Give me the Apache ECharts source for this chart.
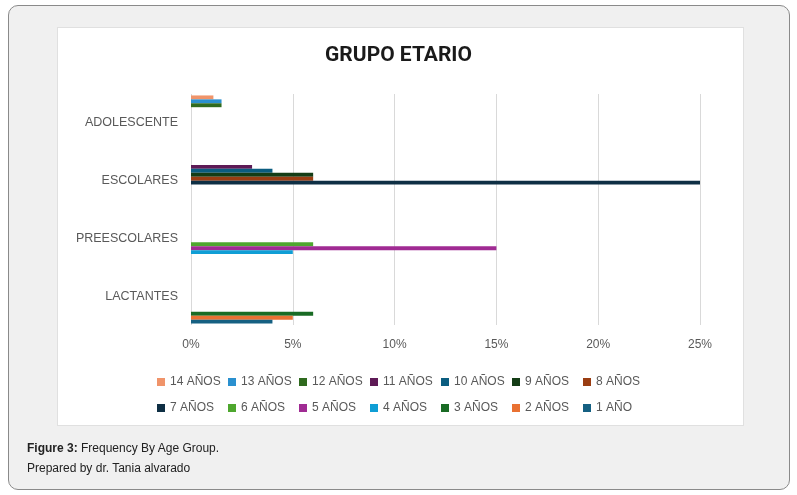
<!DOCTYPE html>
<html>
<head>
<meta charset="utf-8">
<script src="https://cdn.jsdelivr.net/npm/echarts@6/dist/echarts.min.js"></script>
<style>
  html, body { margin: 0; padding: 0; background: #fff; }
  #frame {
    position: absolute; left: 8px; top: 5px; width: 780px; height: 483px;
    background: #f0f0f0; border: 1px solid #8a8a8a; border-radius: 10px;
  }
  #panel {
    position: absolute; left: 57px; top: 27px; width: 685px; height: 397px;
    background: #fff; border: 1px solid #e0e0e0;
  }
  #main { position: absolute; left: 0; top: 0; width: 797px; height: 495px; }
  .cap {
    position: absolute; left: 27px; font-family: "Liberation Sans", Arial, sans-serif;
    font-size: 12px; color: #222;
  }
</style>
</head>
<body>
<div id="frame"></div>
<div id="panel"></div>
<div id="main"></div>
<div class="cap" style="top:441px"><b>Figure 3:</b> Frequency By Age Group.</div>
<div class="cap" style="top:461px">Prepared by dr. Tania alvarado</div>
<script>
// grupos (de abajo hacia arriba, como en Excel)
var grupos = ['LACTANTES', 'PREESCOLARES', 'ESCOLARES', 'ADOLESCENTE'];

var edades = ['1 AÑO', '2 AÑOS', '3 AÑOS', '4 AÑOS', '5 AÑOS', '6 AÑOS', '7 AÑOS',
	'8 AÑOS', '9 AÑOS', '10 AÑOS', '11 AÑOS', '12 AÑOS', '13 AÑOS', '14 AÑOS'];

var colores = ['#156082', '#e97132', '#196b24', '#0f9ed5', '#a02b93', '#4ea72e', '#0e2f44',
	'#9a3d12', '#143d16', '#0b5d80', '#5e1a56', '#2f6a1e', '#2a90cf', '#f0946a'];

// porcentaje por edad, en el orden de grupos
var valores = [
	[4, 0, 0, 0],
	[5, 0, 0, 0],
	[6, 0, 0, 0],
	[0, 5, 0, 0],
	[0, 15, 0, 0],
	[0, 6, 0, 0],
	[0, 0, 25, 0],
	[0, 0, 6, 0],
	[0, 0, 6, 0],
	[0, 0, 4, 0],
	[0, 0, 3, 0],
	[0, 0, 0, 1.5],
	[0, 0, 0, 1.5],
	[0, 0, 0, 1.1]
];

var fila1 = ['14 AÑOS', '13 AÑOS', '12 AÑOS', '11 AÑOS', '10 AÑOS', '9 AÑOS', '8 AÑOS'];
var fila2 = ['7 AÑOS', '6 AÑOS', '5 AÑOS', '4 AÑOS', '3 AÑOS', '2 AÑOS', '1 AÑO'];

var myChart = echarts.init(document.getElementById('main'));

// ECharts pone la primera serie arriba: se agregan de 14 a 1
var series = [];
for (var i = edades.length - 1; i >= 0; i--) {
	series.push({
		name: edades[i],
		type: 'bar',
		data: valores[i],
		barGap: '0%',
		barCategoryGap: '5%',
		itemStyle: { color: colores[i] }
	});
}

// una leyenda por item para que queden en columnas fijas
var legends = [];
[fila1, fila2].forEach(function(fila, r){
	fila.forEach(function(nombre, c){
		legends.push({
			data: [nombre],
			left: 152 + c * 71,
			top: 371 + r * 26,
			itemWidth: 8,
			itemHeight: 8,
			icon: 'rect',
			selectedMode: false,
			textStyle: { color: '#595959', fontSize: 12, fontFamily: 'Liberation Sans' }
		});
	});
});

var option = {
	animation: false,
	title: {
		text: 'GRUPO ETARIO',
		left: 'center',
		top: 40,
		textStyle: { fontSize: 21, fontWeight: 'bold', color: '#1a1a1a', fontFamily: 'Roboto' }
	},
	legend: legends,
	grid: { left: 191, right: 97, top: 94, bottom: 170 },
	xAxis: {
		type: 'value',
		min: 0,
		max: 25,
		interval: 5,
		axisLabel: { formatter: '{value}%', color: '#595959', fontSize: 12, margin: 14, fontFamily: 'Liberation Sans' },
		splitLine: { lineStyle: { color: '#d9d9d9', width: 1 } },
		axisLine: { show: false },
		axisTick: { show: false }
	},
	yAxis: {
		type: 'category',
		data: grupos,
		axisLabel: { color: '#595959', fontSize: 12.5, margin: 13, fontFamily: 'Liberation Sans' },
		axisLine: { show: false },
		axisTick: { show: false }
	},
	series: series
};

myChart.setOption(option);
</script>
</body>
</html>
